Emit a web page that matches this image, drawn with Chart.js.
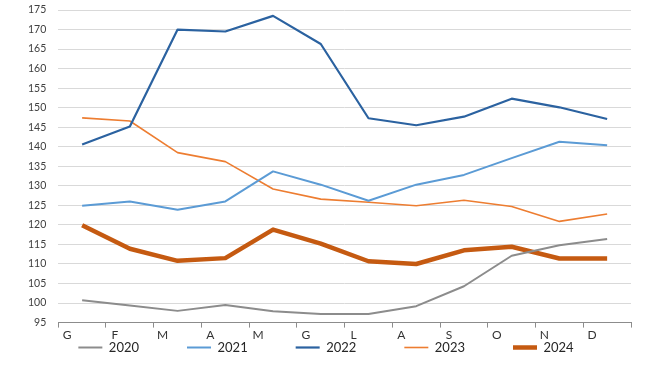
<!DOCTYPE html>
<html>
<head>
<meta charset="utf-8">
<script src="https://cdn.jsdelivr.net/npm/chart.js@4"></script>
<style>
  html, body { margin: 0; padding: 0; background: #fff; }
  #wrap { width: 650px; height: 366px; }
</style>
</head>
<body>
<div id="wrap"><canvas id="chart"></canvas></div>
<script>
const months = ["G", "F", "M", "A", "M", "G", "L", "A", "S", "O", "N", "D"]

const values2020 = [100.7, 99.4, 98.0, 99.5, 97.9, 97.2, 97.2, 99.2, 104.3, 112.1, 114.8, 116.4]
const values2021 = [124.9, 126.0, 123.9, 126.0, 133.7, 130.3, 126.2, 130.3, 132.8, 137.1, 141.3, 140.4]
const values2022 = [140.6, 145.2, 170.0, 169.5, 173.5, 166.3, 147.3, 145.5, 147.7, 152.3, 150.1, 147.1]
const values2023 = [147.4, 146.6, 138.5, 136.2, 129.2, 126.6, 125.8, 124.9, 126.3, 124.7, 120.9, 122.8]
const values2024 = [119.9, 113.9, 110.8, 111.5, 118.8, 115.2, 110.7, 110.0, 113.5, 114.4, 111.4, 111.4]

const yMin = 95
const yMax = 175
const yStep = 5

const FONT = "Lato, 'Open Sans', sans-serif"
const LEGEND_PAD = 48

function line(label, data, color, width) {
  return {
    label,
    data,
    borderColor: color,
    backgroundColor: color,
    borderWidth: width,
    pointRadius: 0,
    tension: 0,
    borderJoinStyle: "round",
    fill: false
  }
}

// legend spacing comes from labels.padding, which also pushes it down; pull it back up
const legendNudge = {
  id: "legendNudge",
  afterLayout(chart) {
    chart.legend.top -= LEGEND_PAD + 1
    chart.legend.left += 5
  }
}

new Chart(document.getElementById("chart"), {
  type: "line",
  data: {
    labels: months,
    datasets: [
      line("2020", values2020, "#8c8c8c", 2),
      line("2021", values2021, "#5b9bd5", 2),
      line("2022", values2022, "#2b62a0", 2.2),
      line("2023", values2023, "#ed7d31", 1.6),
      line("2024", values2024, "#c55a11", 4.5)
    ]
  },
  options: {
    responsive: true,
    maintainAspectRatio: false,
    animation: false,
    devicePixelRatio: 1,
    layout: { padding: { left: 16, right: 19, top: 10, bottom: 0 } },
    plugins: {
      tooltip: { enabled: false },
      legend: {
        position: "bottom",
        maxHeight: 24,
        labels: {
          usePointStyle: true,
          pointStyle: "line",
          pointStyleWidth: 24,
          padding: LEGEND_PAD,
          color: "#262626",
          font: { family: FONT, size: 13 }
        }
      }
    },
    scales: {
      x: {
        offset: true,
        grid: { offset: true, drawOnChartArea: false, drawTicks: true, tickLength: 5, color: "#8c8c8c" },
        border: { display: true, color: "#8c8c8c", width: 1 },
        ticks: {
          color: "#333333",
          font: { family: FONT, size: 12 },
          padding: 0,
          labelOffset: -15,
          maxRotation: 0,
          autoSkip: false
        }
      },
      y: {
        min: yMin,
        max: yMax,
        grid: { color: "#d9d9d9", lineWidth: 1, drawTicks: false },
        border: { display: false },
        ticks: {
          stepSize: yStep,
          color: "#404040",
          font: { family: FONT, size: 10.5 },
          padding: 12
        },
        afterFit(scale) {
          scale.paddingTop = 0
          scale.paddingBottom = 0
        }
      }
    }
  },
  plugins: [legendNudge]
})
</script>
</body>
</html>
